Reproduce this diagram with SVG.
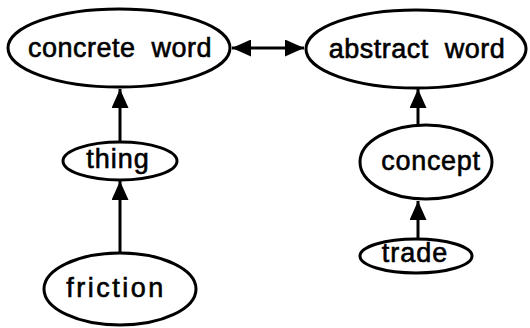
<svg xmlns="http://www.w3.org/2000/svg" width="530" height="328" viewBox="0 0 530 328">
<style>
.n ellipse{fill:#fff;stroke:#000;stroke-width:3}
.n text{font-family:"Liberation Sans",Arial,sans-serif;font-size:27px;fill:#000;stroke:#000;stroke-width:0.6;text-anchor:middle}
.c line{stroke:#000;stroke-width:3}
</style>
<defs>
<marker id="ah" markerUnits="userSpaceOnUse" markerWidth="19" markerHeight="17" refX="19" refY="8.5" orient="auto-start-reverse">
<path d="M0,0 L19,8.5 L0,17 z" fill="#000"/>
</marker>
</defs>
<rect width="530" height="328" fill="#fff"/>
<g class="c" id="connectors">
<line x1="232" y1="48" x2="304" y2="48" marker-start="url(#ah)" marker-end="url(#ah)"/>
<line x1="120" y1="142" x2="120" y2="89" marker-end="url(#ah)"/>
<line x1="120" y1="253" x2="120" y2="181" marker-end="url(#ah)"/>
<line x1="418" y1="125" x2="418" y2="89" marker-end="url(#ah)"/>
<line x1="418" y1="239" x2="418" y2="201" marker-end="url(#ah)"/>
</g>
<g class="n" id="concrete-word">
<ellipse cx="119" cy="48" rx="111" ry="39"/>
<text x="120" y="57" xml:space="preserve" letter-spacing="0.5">concrete  word</text>
</g>
<g class="n" id="abstract-word">
<ellipse cx="416" cy="49" rx="110" ry="39"/>
<text x="417" y="58" xml:space="preserve" letter-spacing="0.5">abstract  word</text>
</g>
<g class="n" id="thing">
<ellipse cx="120" cy="161" rx="57" ry="19"/>
<text x="118" y="168" letter-spacing="1">thing</text>
</g>
<g class="n" id="friction">
<ellipse cx="120" cy="289" rx="76" ry="36"/>
<text x="116" y="297" letter-spacing="2.5">friction</text>
</g>
<g class="n" id="concept">
<ellipse cx="426" cy="162" rx="66" ry="37"/>
<text x="431" y="170" letter-spacing="0.7">concept</text>
</g>
<g class="n" id="trade">
<ellipse cx="416" cy="256" rx="56" ry="17"/>
<text x="415" y="262" letter-spacing="1">trade</text>
</g>
</svg>
